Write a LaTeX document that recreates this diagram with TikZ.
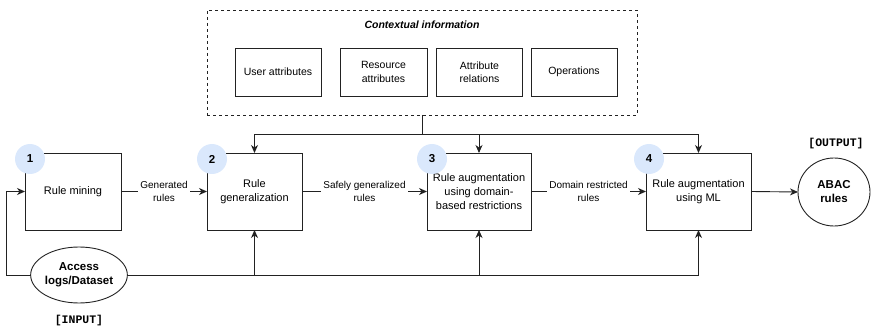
\documentclass[tikz,border=0pt]{standalone}
\usepackage{fontspec}
\setmainfont{Liberation Sans}
\newfontfamily\monofont{Liberation Mono}
\usetikzlibrary{arrows.meta,shapes.geometric}
\definecolor{badgeblue}{HTML}{DAE8FC}
\definecolor{linegray}{HTML}{222222}
\begin{document}
\begin{tikzpicture}[x=1pt,y=-1pt,
  every node/.style={inner sep=0pt, outer sep=0pt},
  stepbox/.style={draw=linegray, line width=0.9pt, fill=white, align=center,
     font=\fontsize{11}{14}\selectfont},
  ctxbox/.style={draw=linegray, line width=0.7pt, fill=white, align=center,
     minimum width=86, minimum height=48, font=\fontsize{10.5}{13.5}\selectfont},
  badge/.style={circle, fill=badgeblue, minimum size=30, font=\bfseries\fontsize{11.5}{13}\selectfont},
  elabel/.style={fill=white, align=center, inner sep=2pt, font=\fontsize{10}{12.5}\selectfont},
  conn/.style={draw=linegray, line width=0.9pt},
  arr/.style={conn, -{Stealth[length=8pt,width=7pt,inset=2.5pt]}},
  term/.style={ellipse, draw=linegray, line width=0.9pt, align=center,
     font=\bfseries\fontsize{11.5}{14}\selectfont},
  tag/.style={font=\monofont\bfseries\fontsize{11.5}{13}\selectfont}
]
\useasboundingbox (0,0) rectangle (871,326);

% contextual information
\node[draw=linegray, dashed, line width=0.7pt, minimum width=430, minimum height=105] (ctx) at (422,62.5) {};
\node[font=\bfseries\itshape\fontsize{10.5}{13}\selectfont] (ctxt) at (422,25) {Contextual information};
\node[ctxbox] (ua) at (278,72) {User attributes};
\node[ctxbox, minimum width=87] (ra) at (383.5,72) {Resource\\attributes};
\node[ctxbox] (ar) at (479.5,72) {Attribute\\relations};
\node[ctxbox] (op) at (574,72) {Operations};

% steps
\node[stepbox, minimum width=96, minimum height=77] (s1) at (73,191.5) {Rule mining};
\node[stepbox, minimum width=95, minimum height=77] (s2) at (254.5,191.5) {Rule\\generalization};
\node[stepbox, minimum width=104, minimum height=77] (s3) at (479,191.5) {Rule augmentation\\using domain-\\based restrictions};
\node[stepbox, minimum width=105, minimum height=77] (s4) at (698.5,191.5) {Rule augmentation\\using ML};

% terminals
\node[term, minimum width=80, minimum height=56] (acc) at (79,275) {Access\\logs/Dataset};
\node[term, minimum width=72, minimum height=68] (abac) at (834,192) {ABAC\\rules};
\node[tag] (in) at (79,321) {[INPUT]};
\node[tag] (out) at (836,144) {[OUTPUT]};

% badges
\node[badge] (n1) at (30,159) {1};
\node[badge] (n2) at (212,159) {2};
\node[badge] (n3) at (432,159) {3};
\node[badge] (n4) at (649,159) {4};

% context connectors
\coordinate (cj) at (422,134.5);
\draw[conn] (ctx.south) -- (cj);
\draw[arr] (cj) -| (s2.north);
\draw[arr] (cj) -| (s3.north);
\draw[arr] (cj) -| (s4.north);

% main flow
\draw[arr] (s1.east) -- node[elabel] (l1) {Generated\\rules} (s2.west);
\draw[arr] (s2.east) -- node[elabel] (l2) {Safely generalized\\rules} (s3.west);
\draw[arr] (s3.east) -- node[elabel] (l3) {Domain restricted\\rules} (s4.west);
\draw[arr] (s4.east) -- (abac.west);

% input connectors
\coordinate (lc) at (6,275);
\draw[arr] (acc.west) -- (lc) |- (s1.west);
\coordinate (bj2) at (254.5,275);
\coordinate (bj3) at (479,275);
\draw[arr] (acc.east) -| (s4.south);
\draw[arr] (bj2) -- (s2.south);
\draw[arr] (bj3) -- (s3.south);
\end{tikzpicture}
\end{document}
